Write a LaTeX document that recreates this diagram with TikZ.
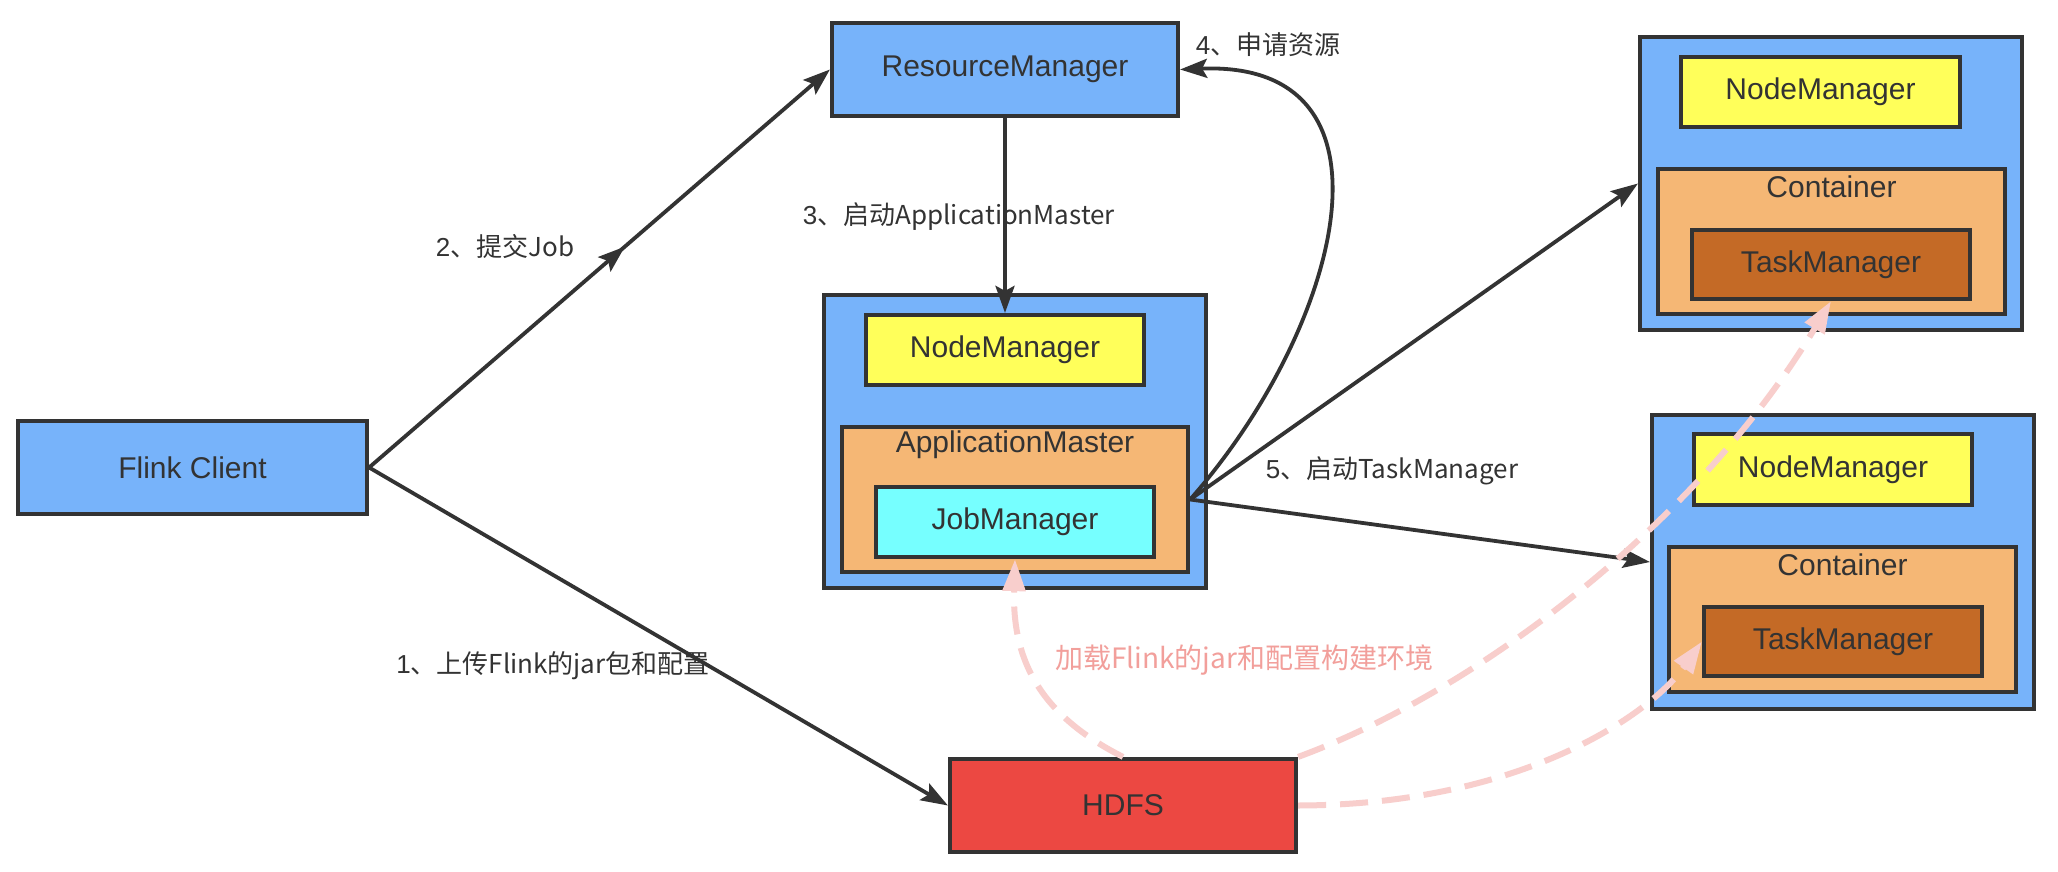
\documentclass[tikz,border=0pt]{standalone}
\usepackage{fontspec}
\setmainfont{Liberation Sans}
\newfontfamily\cjk{Noto Sans CJK SC}
\usetikzlibrary{arrows.meta,decorations.markings}
\definecolor{dark}{HTML}{333333}
\definecolor{txt}{HTML}{333333}
\definecolor{hostblue}{HTML}{77B3FA}
\definecolor{nmyellow}{HTML}{FFFF5A}
\definecolor{ctorange}{HTML}{F5B775}
\definecolor{jmcyan}{HTML}{76FFFF}
\definecolor{tmbrown}{HTML}{C46A26}
\definecolor{hdfsred}{HTML}{EC4842}
\definecolor{pinkline}{HTML}{F8CECC}
\definecolor{pinktext}{HTML}{F29F9B}
\begin{document}
\begin{tikzpicture}[x=1pt,y=-1pt,
  box/.style={draw=dark, line width=4.2pt, inner sep=0pt, font=\fontsize{30}{36}\selectfont, text=txt},
  lbl/.style={font=\fontsize{26}{31}\selectfont, text=txt, inner sep=0pt},
  blackhead/.tip={Stealth[length=27pt,width=19pt,inset=5pt]},
  conn/.style={draw=dark, line width=3.8pt, -{blackhead}},
  pinkconn/.style={draw=pinkline, line width=6pt, dash pattern=on 28pt off 14pt, -{Triangle[length=32pt,width=22pt,fill=pinkline]}}
]
\path[use as bounding box, fill=white] (0,0) rectangle (2058,872);

% left / top / bottom single boxes
\node[box, fill=hostblue, minimum width=349pt, minimum height=93pt] (client) at (192.5,467.5) {Flink Client};
\node[box, fill=hostblue, minimum width=346pt, minimum height=93pt] (rm) at (1005,69.5) {ResourceManager};
\node[box, fill=hdfsred, minimum width=346pt, minimum height=93pt] (hdfs) at (1123,805.5) {HDFS};

% AM host
\node[box, fill=hostblue, minimum width=382pt, minimum height=293pt] (host1) at (1015,441.5) {};
\node[box, fill=nmyellow, minimum width=278pt, minimum height=70pt] (nm1) at (1005,350) {NodeManager};
\node[box, fill=ctorange, minimum width=346pt, minimum height=145pt] (am) at (1015,499.5) {};
\node[box, draw=none, fill=none] (amlbl) at (1015,445) {ApplicationMaster};
\node[box, fill=jmcyan, minimum width=278pt, minimum height=70pt] (jm) at (1015,522) {JobManager};

% top-right host
\node[box, fill=hostblue, minimum width=382pt, minimum height=293pt] (host2) at (1831,183.5) {};
\node[box, fill=nmyellow, minimum width=279pt, minimum height=70pt] (nm2) at (1820.5,92) {NodeManager};
\node[box, fill=ctorange, minimum width=347pt, minimum height=145pt] (ct2) at (1831.5,241.5) {};
\node[box, draw=none, fill=none] (ct2lbl) at (1831.5,187) {Container};
\node[box, fill=tmbrown, minimum width=278pt, minimum height=69pt] (tm2) at (1831,264.5) {TaskManager};

% bottom-right host
\node[box, fill=hostblue, minimum width=382pt, minimum height=294pt] (host3) at (1843,562) {};
\node[box, fill=nmyellow, minimum width=278pt, minimum height=71pt] (nm3) at (1833,469.5) {NodeManager};
\node[box, fill=ctorange, minimum width=347pt, minimum height=145pt] (ct3) at (1842.5,619.5) {};
\node[box, draw=none, fill=none] (ct3lbl) at (1842.5,565) {Container};
\node[box, fill=tmbrown, minimum width=278pt, minimum height=69pt] (tm3) at (1843,641.5) {TaskManager};

% black connectors
\draw[conn] (client.east) -- (hdfs.west);
\draw[conn, postaction={decorate, decoration={markings, mark=at position 0.555 with {\arrow{blackhead}}}}] (client.east) -- (rm.west);
\draw[conn] (rm.south) -- (nm1.north);
\draw[conn] (am.east) .. controls (1340,330) and (1412,60) .. (rm.east);
\draw[conn] (am.east) -- (host2.west);
\draw[conn] (am.east) -- (host3.west);

% pink dashed connectors
\draw[pinkconn] (hdfs.north) .. controls (1040,715) and (1012,660) .. (jm.south);
\draw[pinkconn] (hdfs.north east) .. controls (1480,690) and (1700,520) .. (tm2.south);
\draw[pinkconn] (hdfs.east) .. controls (1520,805) and (1650,715) .. (tm3.west);

% labels
\node[lbl] (l1) at (553,666) {1\cjk{、上传}Flink\cjk{的}jar\cjk{包和配置}};
\node[lbl] (l2) at (505,247) {2\cjk{、提交}Job};
\node[lbl] (l3) at (959,217) {3\cjk{、启动}ApplicationMaster};
\node[lbl] (l4) at (1268,45) {4\cjk{、申请资源}};
\node[lbl] (l5) at (1392,471) {5\cjk{、启动}TaskManager};
\node[lbl, text=pinktext, font=\fontsize{28}{33}\selectfont] (lp) at (1244,660) {\cjk{加载}Flink\cjk{的}jar\cjk{和配置构建环境}};
\end{tikzpicture}
\end{document}
